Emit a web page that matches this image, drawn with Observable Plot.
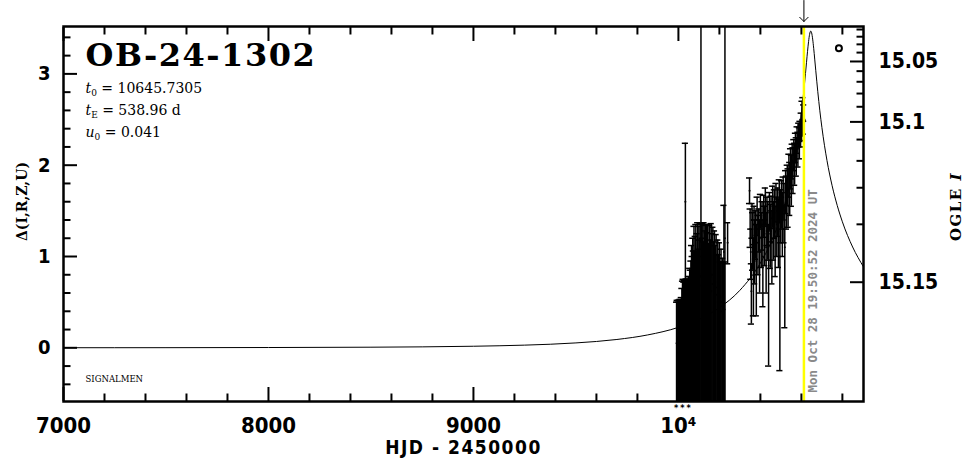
<!DOCTYPE html>
<html>
<head>
<meta charset="utf-8">
<script src="https://cdn.jsdelivr.net/npm/d3@7"></script>
<script src="https://cdn.jsdelivr.net/npm/@observablehq/plot@0.6"></script>
<style>
  html, body { margin: 0; padding: 0; background: #fff; }
  #chart svg { display: block; }
  .title-text text { letter-spacing: 1.5px; }
  .ogle-label text { letter-spacing: 1.5px; }
  .xlabel text { letter-spacing: 1.5px; }
  .stars text { letter-spacing: 2px; }
</style>
</head>
<body>
<div id="chart"></div>
<script>
// ---------------- texts ----------------
const eventName = "OB-24-1302";
const paramSymbols = ["t", "t", "u"];
const paramSubscripts = ["0", "E", "0"];
const paramValues = ["10645.7305", "538.96 d", "0.041"];
const surveyLabel = "SIGNALMEN";
const xAxisLabel = "HJD - 2450000";
const yAxisLabel = "Δ(I,R,Z,U)";
const rightAxisLabel = "OGLE I";
const timestampText = "Mon Oct 28 19:50:52 2024 UT";
const timestampHJD = 10612.33;
const overflowMarkText = "***";
const overflowMarkT = [10000];

// ---------------- axes ----------------
const xDomain = [7000, 10903];
const yDomain = [-0.588, 3.519];
const xMajorTicks = [7000, 8000, 9000, 10000];
const xTickLabels = ["7000", "8000", "9000", "10⁴"];
const xMinorTicks = [7200, 7400, 7600, 7800, 8200, 8400, 8600, 8800, 9200, 9400, 9600, 9800, 10200, 10400, 10600, 10800];
const yMajorTicks = [0, 1, 2, 3];
const yTickLabels = ["0", "1", "2", "3"];
const yMinorTicks = [-0.4, -0.2, 0.2, 0.4, 0.6, 0.8, 1.2, 1.4, 1.6, 1.8, 2.2, 2.4, 2.6, 2.8, 3.2, 3.4];
const magMajorTicks = [15.05, 15.1, 15.15];
const magTickLabels = ["15.05", "15.1", "15.15"];
const magMinorTicks = [15.01, 15.02, 15.03, 15.04, 15.06, 15.07, 15.08, 15.09, 15.11, 15.12, 15.13, 15.14];
// OGLE I calibration (fluxes relative to I = 15): blend and source flux
const ogleBlendFlux = 0.86080;
const ogleSourceFlux = 0.005244;

// ---------------- model light curve ----------------
const modelT = [7000, 7500, 8000, 8500, 9000, 9250, 9500, 9700, 9850, 10000, 10100, 10200, 10300, 10400, 10450, 10500, 10525, 10550, 10575, 10590, 10600, 10610, 10615, 10620, 10625, 10630, 10635, 10640, 10645.73, 10650, 10655, 10660, 10665, 10670, 10680, 10690, 10700, 10725, 10750, 10775, 10800, 10850, 10903];
const modelDelta = [0.001, 0.0015, 0.0032, 0.0068, 0.0172, 0.0294, 0.0536, 0.0913, 0.141, 0.224, 0.311, 0.439, 0.630, 0.929, 1.145, 1.438, 1.627, 1.862, 2.162, 2.389, 2.568, 2.773, 2.886, 3.005, 3.127, 3.247, 3.354, 3.433, 3.469, 3.449, 3.381, 3.280, 3.162, 3.040, 2.805, 2.596, 2.414, 2.050, 1.775, 1.558, 1.380, 1.104, 0.887];

// ---------------- observations, season 1 ----------------
const s1T = [9991, 9994, 9998, 10001, 10004, 10008, 10011, 10014, 10017, 10020, 10023, 10026, 10029, 10032, 10034, 10037, 10040, 10043, 10046, 10049, 10052, 10055, 10058, 10061, 10064, 10067, 10070, 10073, 10076, 10079, 10082, 10085, 10088, 10091, 10094, 10097, 10100, 10103, 10106, 10110, 10113, 10116, 10119, 10122, 10125, 10128, 10131, 10134, 10137, 10140, 10143, 10146, 10150, 10153, 10157, 10160, 10164, 10168, 10172, 10176, 10180, 10184, 10188, 10192, 10196, 10200, 10204, 10208, 10212, 10216, 10219, 10222, 10225, 10227, 10240];
const s1Delta = [0.05, 0.10, -0.05, 0.12, 0.02, 0.15, -0.10, 0.08, 0.20, 0.18, 0.25, 0.10, 0.30, 0.22, 1.60, 0.28, 0.35, 0.20, 0.32, 0.40, 0.26, 0.45, 0.38, 0.55, 0.50, 0.62, 0.48, 0.66, 0.58, 0.70, 0.52, 0.75, 0.64, 0.80, 0.60, 0.72, 0.85, 0.68, 0.78, 1.00, 0.80, 0.70, 0.88, 0.76, 0.82, 0.66, 0.84, 0.74, 0.90, 0.70, 0.80, 0.64, 0.86, 0.72, 0.78, 0.62, 0.80, 0.70, 0.76, 0.60, 0.72, 0.58, 0.66, 0.50, 0.62, 0.45, 0.56, 0.40, 0.50, 0.38, 0.48, 1.05, 0.42, 1.20, 1.15];
const s1ErrUp = [0.45, 0.42, 0.55, 0.40, 0.50, 0.38, 0.62, 0.47, 0.45, 0.55, 0.50, 0.62, 0.44, 0.50, 0.64, 0.47, 0.40, 0.55, 0.43, 0.38, 0.52, 0.42, 0.47, 0.40, 0.62, 0.38, 0.72, 0.40, 0.75, 0.35, 0.70, 0.60, 0.42, 0.45, 0.77, 0.36, 0.48, 0.50, 0.58, 3.0, 0.55, 0.50, 0.48, 0.40, 0.55, 0.62, 0.50, 0.40, 0.45, 0.56, 0.55, 0.50, 0.48, 0.62, 0.40, 0.74, 0.45, 0.62, 0.40, 0.68, 0.40, 0.66, 0.36, 0.68, 0.40, 0.70, 0.38, 0.68, 0.44, 0.60, 0.45, 0.51, 0.52, 3.0, 0.22];
const s1ErrDown = [3, 3, 3, 3, 3, 3, 3, 3, 3, 3, 3, 3, 3, 3, 3, 3, 3, 3, 3, 3, 3, 3, 3, 3, 3, 3, 3, 3, 3, 3, 3, 3, 3, 3, 3, 3, 3, 3, 3, 3, 3, 3, 3, 3, 3, 3, 3, 3, 3, 3, 3, 3, 3, 3, 3, 3, 3, 3, 3, 3, 3, 3, 3, 3, 3, 3, 3, 3, 3, 3, 3, 3, 3, 3, 0.23];

// ---------------- observations, season 2 ----------------
const s2T = [10347, 10350, 10353, 10356, 10359, 10362, 10366, 10369, 10372, 10376, 10380, 10384, 10388, 10392, 10396, 10400, 10404, 10408, 10412, 10416, 10420, 10424, 10428, 10432, 10436, 10440, 10444, 10448, 10452, 10456, 10460, 10464, 10468, 10472, 10476, 10480, 10484, 10488, 10492, 10495, 10499, 10503, 10507, 10511, 10515, 10519, 10523, 10527, 10531, 10535, 10539, 10543, 10547, 10551, 10555, 10559, 10563, 10567, 10571, 10575, 10579, 10583, 10587, 10590, 10593, 10596, 10599, 10601, 10603, 10605, 10607, 10609, 10611];
const s2Delta = [1.72, 1.30, 1.05, 0.62, 1.40, 1.20, 0.85, 1.35, 1.10, 1.25, 0.95, 1.45, 1.15, 1.30, 1.05, 1.50, 1.20, 1.35, 1.00, 1.45, 1.25, 1.55, 1.10, 1.40, 1.30, 0.90, 1.50, 1.25, 1.42, 1.15, 1.55, 1.30, 1.48, 1.20, 1.60, 1.35, 1.50, 1.28, 1.62, 1.00, 1.45, 1.58, 1.38, 1.65, 1.50, 1.10, 1.72, 1.60, 1.80, 1.66, 1.90, 1.75, 1.98, 1.85, 2.05, 1.95, 2.12, 2.02, 2.20, 2.10, 2.28, 2.18, 2.34, 2.25, 2.38, 2.32, 2.45, 2.36, 2.55, 2.40, 2.62, 2.42, 2.58];
const s2ErrUp = [0.14, 0.22, 0.25, 0.30, 0.18, 0.28, 0.35, 0.20, 0.30, 0.25, 0.40, 0.20, 0.30, 0.22, 0.35, 0.18, 0.28, 0.25, 0.40, 0.22, 0.30, 0.20, 0.38, 0.25, 0.30, 0.45, 0.20, 0.32, 0.24, 0.35, 0.22, 0.30, 0.25, 0.35, 0.20, 0.30, 0.25, 0.35, 0.22, 0.50, 0.28, 0.25, 0.32, 0.22, 0.30, 0.45, 0.22, 0.28, 0.20, 0.30, 0.22, 0.28, 0.20, 0.26, 0.18, 0.24, 0.16, 0.22, 0.15, 0.20, 0.14, 0.18, 0.12, 0.16, 0.10, 0.12, 0.12, 0.08, 0.15, 0.08, 0.12, 0.07, 0.08];
const s2ErrDown = [0.14, 0.20, 0.30, 0.36, 0.20, 0.35, 0.50, 0.22, 0.40, 0.28, 0.60, 0.22, 0.35, 0.25, 0.45, 0.20, 0.32, 0.28, 0.55, 0.24, 0.35, 0.22, 0.50, 0.28, 0.34, 1.10, 0.22, 0.38, 0.26, 0.45, 0.24, 0.34, 0.28, 0.42, 0.22, 0.35, 0.28, 0.40, 0.25, 1.25, 0.30, 0.28, 0.38, 0.25, 0.35, 0.88, 0.25, 0.30, 0.24, 0.34, 0.25, 0.30, 0.24, 0.30, 0.20, 0.26, 0.18, 0.24, 0.17, 0.22, 0.15, 0.20, 0.14, 0.18, 0.12, 0.12, 0.12, 0.09, 0.14, 0.08, 0.12, 0.08, 0.10];

// small open-circle symbol in the upper right
const markerT = [10783];
const markerDelta = [3.28];

// ---------------- build tables ----------------
const obs = s1T.map((t, i) => ({t, d: s1Delta[i], hi: s1Delta[i] + s1ErrUp[i], lo: s1Delta[i] - s1ErrDown[i]}))
  .concat(s2T.map((t, i) => ({t, d: s2Delta[i], hi: s2Delta[i] + s2ErrUp[i], lo: s2Delta[i] - s2ErrDown[i]})));
const model = modelT.map((t, i) => ({t, d: modelDelta[i]}));
const markers = markerT.map((t, i) => ({t, d: markerDelta[i]}));
const magToDelta = (m) => 2.5 * Math.log10((Math.pow(10, -0.4 * (m - 15)) - ogleBlendFlux) / ogleSourceFlux);
const magMajorDelta = magMajorTicks.map(magToDelta);
const magMinorDelta = magMinorTicks.map(magToDelta);

const tickFont = '"DejaVu Sans Condensed", "DejaVu Sans", sans-serif';
const serifFont = '"DejaVu Serif", serif';
const monoFont = '"DejaVu Sans Mono", monospace';
const capHalf = 15;
const majorLen = 14, minorLen = 7.5;

const tickCommon = {label: null, fill: "none", stroke: "black", strokeWidth: 2};
const marks = [
  // error bars
  Plot.ruleX(obs, {x: "t", y1: "lo", y2: "hi", stroke: "black", strokeWidth: 1.5, clip: true}),
  Plot.ruleY(obs, {y: "hi", x1: d => d.t - capHalf, x2: d => d.t + capHalf, stroke: "black", strokeWidth: 1.5, clip: true}),
  Plot.ruleY(obs, {y: "lo", x1: d => d.t - capHalf, x2: d => d.t + capHalf, stroke: "black", strokeWidth: 1.5, clip: true}),
  Plot.dot(obs, {x: "t", y: "d", r: 1, fill: "black", clip: true}),
  // model
  Plot.line(model, {x: "t", y: "d", curve: "monotone-x", stroke: "black", strokeWidth: 1, clip: true}),
  // marker
  Plot.dot(markers, {x: "t", y: "d", r: 3, stroke: "black", strokeWidth: 2, fill: "none"}),
  // timestamp line & arrow
  Plot.ruleX([timestampHJD], {x: d => d, stroke: "#ffff00", strokeWidth: 2.5}),
  Plot.vector([timestampHJD], {x: d => d, y: yDomain[1], length: 21, rotate: 180, anchor: "end", dy: -5, stroke: "black", strokeWidth: 1}),
  Plot.text([{t: timestampHJD, s: timestampText}], {x: "t", text: "s", frameAnchor: "bottom", rotate: -90, textAnchor: "start", lineAnchor: "middle", dx: 9, dy: -9, fill: "#8a8a8a", fontFamily: monoFont, fontWeight: "bold", fontSize: 12.5}),
  // frame
  Plot.frame({stroke: "black", strokeWidth: 2.5}),
  // x ticks bottom/top
  Plot.axisX({...tickCommon, anchor: "bottom", ticks: xMajorTicks, tickSize: -majorLen}),
  Plot.axisX({...tickCommon, anchor: "bottom", ticks: xMinorTicks, tickSize: -minorLen}),
  Plot.axisX({...tickCommon, anchor: "top", ticks: xMajorTicks, tickSize: -majorLen}),
  Plot.axisX({...tickCommon, anchor: "top", ticks: xMinorTicks, tickSize: -minorLen}),
  Plot.axisX({anchor: "bottom", label: null, ticks: xMajorTicks, tickSize: 0, tickPadding: 16, stroke: "none", fill: "black",
    tickFormat: d => xTickLabels[xMajorTicks.indexOf(d)], fontFamily: tickFont, fontWeight: "bold", fontSize: 22}),
  // y ticks left
  Plot.axisY({...tickCommon, anchor: "left", ticks: yMajorTicks, tickSize: -majorLen}),
  Plot.axisY({...tickCommon, anchor: "left", ticks: yMinorTicks, tickSize: -minorLen}),
  Plot.axisY({anchor: "left", label: null, ticks: yMajorTicks, tickSize: 0, tickPadding: 13, stroke: "none", fill: "black",
    tickFormat: d => yTickLabels[yMajorTicks.indexOf(d)], fontFamily: tickFont, fontWeight: "bold", fontSize: 20}),
  // right magnitude ticks
  Plot.axisY({...tickCommon, anchor: "right", ticks: magMajorDelta, tickSize: -majorLen}),
  Plot.axisY({...tickCommon, anchor: "right", ticks: magMinorDelta, tickSize: -minorLen}),
  Plot.axisY({anchor: "right", label: null, ticks: magMajorDelta, tickSize: 0, tickPadding: 15, stroke: "none", fill: "black",
    tickFormat: d => magTickLabels[magMajorDelta.findIndex(v => Math.abs(v - d) < 1e-9)], fontFamily: tickFont, fontWeight: "bold", fontSize: 21}),
  // overflow mark
  Plot.text(overflowMarkT, {x: d => d, text: () => overflowMarkText, frameAnchor: "bottom", textAnchor: "middle", lineAnchor: "middle", dx: 5, dy: 7, fontFamily: tickFont, fontWeight: "bold", fontSize: 9, className: "stars"}),
  // title & parameters
  Plot.text([eventName], {frameAnchor: "top-left", textAnchor: "start", lineAnchor: "middle", dx: 22, dy: 29, fontFamily: serifFont, fontWeight: "bold", fontSize: 32, className: "title-text"}),
  ...paramValues.map((v, i) => Plot.text([paramSymbols[i] + paramSubscripts[i] + " = " + v], {
    frameAnchor: "top-left", textAnchor: "start", lineAnchor: "middle", dx: 22, dy: 62.5 + 22 * i,
    fontFamily: serifFont, fontSize: 14, className: "param-line"})),
  Plot.text([surveyLabel], {frameAnchor: "bottom-left", textAnchor: "start", lineAnchor: "middle", dx: 22, dy: -22.6, fontFamily: serifFont, fontSize: 8.5}),
  // axis labels
  Plot.text([xAxisLabel], {frameAnchor: "bottom", textAnchor: "middle", lineAnchor: "middle", dy: 46.9, fontFamily: tickFont, fontWeight: "bold", fontSize: 19, className: "xlabel"}),
  Plot.text([yAxisLabel], {frameAnchor: "left", rotate: -90, textAnchor: "middle", lineAnchor: "middle", dx: -40.5, dy: -12.5, fontFamily: serifFont, fontWeight: "bold", fontSize: 14}),
  Plot.text([rightAxisLabel], {frameAnchor: "right", rotate: -90, textAnchor: "middle", lineAnchor: "middle", dx: 93, dy: -7.5, fontFamily: serifFont, fontWeight: "bold", fontSize: 15, className: "ogle-label"})
];

const svg = Plot.plot({
  width: 966,
  height: 459,
  marginLeft: 63,
  marginRight: 103,
  marginTop: 26,
  marginBottom: 58,
  x: {domain: xDomain},
  y: {domain: yDomain},
  style: {background: "white", color: "black", overflow: "visible"},
  marks
});

// subscripts / italics as real text
d3.select(svg).selectAll(".param-line text").each(function () {
  const full = this.textContent;
  const sym = full[0], sub = full[1], rest = full.slice(2);
  const el = d3.select(this);
  el.text(null);
  el.append("tspan").attr("font-style", "italic").text(sym);
  el.append("tspan").attr("font-size", "9px").attr("dy", "3").text(sub);
  el.append("tspan").attr("dy", "-3").text(rest);
});
d3.select(svg).selectAll(".ogle-label text").each(function () {
  const full = this.textContent;
  const el = d3.select(this);
  el.text(null);
  el.append("tspan").text(full.slice(0, -1));
  el.append("tspan").attr("font-style", "italic").text(full.slice(-1));
});

document.getElementById("chart").appendChild(svg);
</script>
</body>
</html>
